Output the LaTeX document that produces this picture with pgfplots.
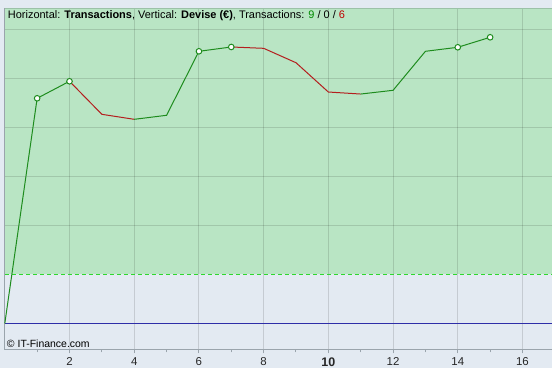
\documentclass[border=0pt]{standalone}
\usepackage{fontspec}
\setmainfont{Liberation Sans}
\usepackage{pgfplots}
\pgfplotsset{compat=1.18}
\definecolor{outerbg}{HTML}{E3EAF2}
\definecolor{greenbg}{HTML}{B9E5C4}
\definecolor{upline}{HTML}{1E8C1E}
\definecolor{downline}{HTML}{B41E1E}
\definecolor{dashgreen}{HTML}{2ED82E}
\definecolor{zeroblue}{HTML}{2E2EA8}
\definecolor{framegray}{HTML}{9AA4AC}
\definecolor{topframe}{HTML}{9CC2A8}
\definecolor{tgreen}{HTML}{008A00}
\definecolor{tred}{HTML}{C00000}
\begin{document}
\begin{tikzpicture}
\begin{axis}[
  set layers, clip=false,
  scale only axis, width=547.21bp, height=341bp,
  xmin=0, xmax=16.912, ymin=-0.5306, ymax=6.4286,
  axis line style={draw=none},
  xtick={2,4,...,16},
  xticklabels={2,4,6,8,{\bfseries\fontsize{12.5}{14}\selectfont 10},12,14,16},
  minor xtick={1,3,...,15},
  ytick={2,3,4,5,6}, yticklabels={},
  xmajorgrids, ymajorgrids,
  major grid style={black, opacity=0.13, line width=1bp},
  tick align=outside, major tick length=4bp, minor tick length=3bp,
  xtick pos=bottom, ytick style={draw=none},
  x tick style={framegray, line width=1bp},
  minor x tick style={framegray, line width=1bp},
  xticklabel style={font=\fontsize{11.5}{13}\selectfont, text=black!85, inner sep=0pt, anchor=center, yshift=-8.3bp},
]
\begin{pgfonlayer}{axis background}
\fill[outerbg] ([xshift=-4.79bp,yshift=-18.5bp]rel axis cs:0,0) rectangle ([yshift=8.5bp]rel axis cs:1,1);
\fill[greenbg] (axis cs:0,1) rectangle (axis cs:16.912,6.4286);
\end{pgfonlayer}
\draw[zeroblue, line width=1bp] (axis cs:0,0) -- (axis cs:16.912,0);
\draw[dashgreen, line width=1bp, dash pattern=on 4bp off 3bp] (axis cs:0,1) -- (axis cs:16.912,1);
\draw[framegray, line width=1bp] (rel axis cs:0,0) -- (rel axis cs:1,0);
\draw[framegray, line width=1bp] (rel axis cs:0,0) -- (rel axis cs:0,1);
\draw[topframe, line width=1bp] (rel axis cs:0,1) -- (rel axis cs:1,1);
\addplot[upline, line width=1bp] coordinates {(0,0) (1,4.596) (2,4.943)};
\addplot[downline, line width=1bp] coordinates {(2,4.943) (3,4.269) (4,4.167)};
\addplot[upline, line width=1bp] coordinates {(4,4.167) (5,4.249) (6,5.555) (7,5.643)};
\addplot[downline, line width=1bp] coordinates {(7,5.643) (8,5.616) (9,5.322) (10,4.724) (11,4.683)};
\addplot[upline, line width=1bp] coordinates {(11,4.683) (12,4.759) (13,5.555) (14,5.637) (15,5.841)};
\addplot[only marks, mark=*, mark size=2.8bp, mark options={fill=white, draw=upline, line width=1bp}]
  coordinates {(1,4.596) (2,4.943) (6,5.555) (7,5.643) (14,5.637) (15,5.841)};
\node[anchor=west, inner sep=0pt, font=\fontsize{11}{13}\selectfont] at ([xshift=3bp, yshift=-7.3bp]rel axis cs:0,1)
  {Horizontal: \textbf{Transactions}, Vertical: \textbf{Devise (€)}, Transactions: \textcolor{tgreen}{9} / 0 / \textcolor{tred}{6}};
\node[anchor=west, inner sep=0pt, font=\fontsize{10.5}{12}\selectfont] at ([xshift=2bp, yshift=6bp]rel axis cs:0,0)
  {© IT-Finance.com};
\end{axis}
\pgfresetboundingbox
\path[use as bounding box] (-4.79bp,-18.5bp) rectangle (547.21bp,349.5bp);
\end{tikzpicture}
\end{document}
